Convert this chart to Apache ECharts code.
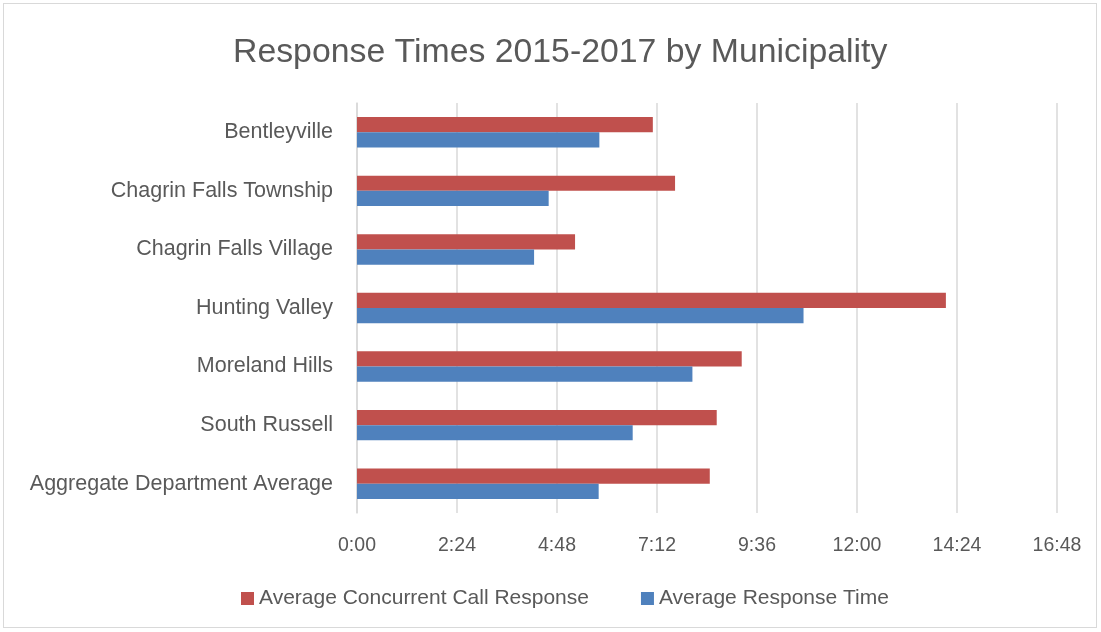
<!DOCTYPE html>
<html><head><meta charset="utf-8">
<script src="https://cdn.jsdelivr.net/npm/echarts@6/dist/echarts.min.js"></script>
<style>
html,body{margin:0;padding:0;background:#fff;}
#wrap{position:absolute;left:3px;top:3px;width:1094px;height:625px;border:1px solid #d9d9d9;box-sizing:border-box;}
#c{position:absolute;left:0;top:0;width:1101px;height:632px;}
</style></head>
<body><div id="wrap"></div><div id="c"></div>
<script>
const categories = ["Bentleyville","Chagrin Falls Township","Chagrin Falls Village","Hunting Valley","Moreland Hills","South Russell","Aggregate Department Average"];
// values in seconds
const concurrentCall = [426, 458, 314, 848, 554, 518, 508];
const responseTime = [349, 276, 255, 643, 483, 397, 348];
const seriesNames = ["Average Concurrent Call Response","Average Response Time"];

function fmt(v){const m=Math.floor(v/60);const s=Math.round(v%60);return m+":"+(s<10?"0":"")+s;}
const font = "Liberation Sans";
const chart = echarts.init(document.getElementById('c'), null, {renderer:'canvas'});
chart.setOption({
  animation:false,
  backgroundColor:'transparent',
  title:{text:"Response Times 2015-2017 by Municipality",left:228,top:31,
    textStyle:{fontFamily:font,fontSize:33.8,fontWeight:'normal',color:'#595959'}},
  legend:{bottom:18,left:236,itemWidth:13,itemHeight:13,itemGap:52,icon:'rect',itemStyle:{borderWidth:0},
    textStyle:{fontFamily:font,fontSize:21,color:'#595959'},
    data:seriesNames},
  grid:{left:357,right:44,top:103,bottom:119,containLabel:false},
  xAxis:{type:'value',min:0,max:1008,interval:144,
    axisLine:{show:false},axisTick:{show:false},
    splitLine:{lineStyle:{color:'#d9d9d9',width:1.5}},
    axisLabel:{formatter:fmt,fontFamily:font,fontSize:19.5,color:'#595959',margin:23}},
  yAxis:{type:'category',data:categories,inverse:true,
    axisLine:{show:true,lineStyle:{color:'#d9d9d9',width:1.5}},axisTick:{show:false},
    axisLabel:{fontFamily:font,fontSize:21.5,color:'#595959',margin:24}},
  series:[
    {name:seriesNames[0],type:'bar',data:concurrentCall,barGap:'0%',barCategoryGap:'48%',
     itemStyle:{color:'#c0504d'}},
    {name:seriesNames[1],type:'bar',data:responseTime,barGap:'0%',barCategoryGap:'48%',
     itemStyle:{color:'#4f81bd'}}
  ]
});
</script></body></html>
